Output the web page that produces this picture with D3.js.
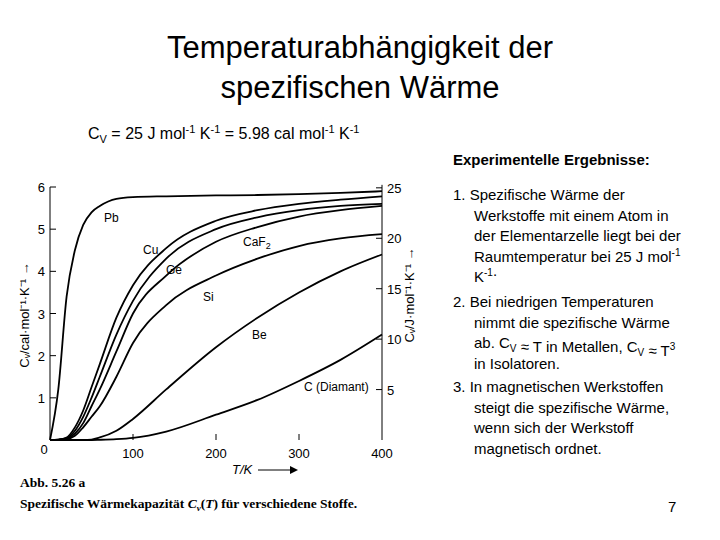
<!DOCTYPE html>
<html><head><meta charset="utf-8">
<script src="https://cdn.jsdelivr.net/npm/d3@7"></script>
<style>body{margin:0;background:#fff}</style>
</head><body>
<svg id="c" width="720" height="540"></svg>
<script>
// values in cal mol^-1 K^-1
const temps = [0, 10, 20, 30, 40, 50, 60, 80, 100, 140, 200, 250, 300, 350, 400];
const pb = [0, 1.2, 3.4, 4.5, 5.1, 5.4, 5.55, 5.72, 5.76, 5.78, 5.8, 5.81, 5.83, 5.86, 5.9];
const cu = [0, 0.01, 0.06, 0.3, 0.7, 1.25, 1.8, 2.9, 3.67, 4.55, 5.2, 5.45, 5.6, 5.7, 5.78];
const ge = [0, 0.01, 0.04, 0.22, 0.55, 1.0, 1.5, 2.5, 3.3, 4.3, 5.0, 5.28, 5.45, 5.55, 5.6];
const caf2 = [0, 0.005, 0.03, 0.15, 0.4, 0.8, 1.2, 2.1, 3.0, 3.9, 4.7, 5.05, 5.3, 5.45, 5.55];
const si = [0, 0.005, 0.02, 0.1, 0.3, 0.55, 0.8, 1.5, 2.3, 3.2, 3.9, 4.3, 4.6, 4.78, 4.88];
const be = [0, 0, 0, 0, 0, 0.01, 0.06, 0.22, 0.5, 1.2, 2.2, 2.9, 3.5, 4.0, 4.4];
const diamant = [0, 0, 0, 0, 0, 0, 0.005, 0.02, 0.05, 0.2, 0.6, 0.95, 1.4, 1.9, 2.5];
const series = [["Pb", pb], ["Cu", cu], ["Ge", ge], ["CaF2", caf2], ["Si", si], ["Be", be], ["C", diamant]];
const xTicks = [100, 200, 300, 400];
const leftTicks = [1, 2, 3, 4, 5, 6];
const rightTicks = [5, 10, 15, 20, 25];
const calPerJ = 5.98 / 25;

const svg = d3.select("#c");
const font = "Arial, 'Liberation Sans', sans-serif";

svg.append("text").attr("x", 360).attr("y", 58).attr("text-anchor", "middle")
  .attr("font-family", font).attr("font-size", 31).text("Temperaturabhängigkeit der");
svg.append("text").attr("x", 360).attr("y", 98).attr("text-anchor", "middle")
  .attr("font-family", font).attr("font-size", 31).text("spezifischen Wärme");

const sub = svg.append("text").attr("x", 88).attr("y", 139)
  .attr("font-family", font).attr("font-size", 16);
[["C", 0], ["V", 4], [" = 25 J mol", 0], ["-1", -6], [" K", 0], ["-1", -6],
 [" = 5.98 cal mol", 0], ["-1", -6], [" K", 0], ["-1", -6]].forEach(([t, dy], i, a) => {
  const prev = i ? a[i - 1][1] : 0;
  sub.append("tspan").attr("dy", dy - prev).attr("font-size", dy ? 11 : 16).text(t);
});

// chart
const x = d3.scaleLinear().domain([0, 400]).range([50, 382]);
const y = d3.scaleLinear().domain([0, 6]).range([440, 187]);
const g = svg.append("g").attr("font-family", font).attr("font-size", 12);

g.append("line").attr("x1", 50).attr("x2", 50).attr("y1", y(6)).attr("y2", 440).attr("stroke", "#000");
g.append("line").attr("x1", 382).attr("x2", 382).attr("y1", y(25 * calPerJ) - 3).attr("y2", 440).attr("stroke", "#000");

leftTicks.forEach(v => {
  g.append("line").attr("x1", 50).attr("x2", 56).attr("y1", y(v)).attr("y2", y(v)).attr("stroke", "#000");
  g.append("text").attr("x", 45).attr("y", y(v) + 5).attr("text-anchor", "end").attr("font-size", 13).text(v);
});
rightTicks.forEach(v => {
  const yy = y(v * calPerJ);
  g.append("line").attr("x1", 376).attr("x2", 382).attr("y1", yy).attr("y2", yy).attr("stroke", "#000");
  g.append("text").attr("x", 387).attr("y", yy + 5).attr("font-size", 13).text(v);
});
xTicks.forEach(v => {
  if (v < 400) g.append("line").attr("x1", x(v)).attr("x2", x(v)).attr("y1", 440).attr("y2", 434).attr("stroke", "#000");
  g.append("text").attr("x", x(v)).attr("y", 458).attr("text-anchor", "middle").attr("font-size", 13).text(v);
});
g.append("text").attr("x", 44).attr("y", 454).attr("text-anchor", "middle").attr("font-size", 13).text("0");
g.append("text").attr("x", 232).attr("y", 474).attr("font-size", 13).attr("font-style", "italic").text("T/K");
g.append("path").attr("d", "M258,470 L290,470").attr("stroke", "#000");
g.append("path").attr("d", "M290,466 L298,470 L290,474 Z").attr("fill", "#000");

g.append("text").attr("transform", "translate(29,315) rotate(-90)").attr("text-anchor", "middle")
  .attr("font-size", 13).text("C\u1D65/cal·mol⁻¹·K⁻¹  →");
g.append("text").attr("transform", "translate(414,295) rotate(-90)").attr("text-anchor", "middle")
  .attr("font-size", 13).text("C\u1D65/J·mol⁻¹·K⁻¹  →");

const line = d3.line().x((d, i) => x(temps[i])).y(d => y(d)).curve(d3.curveMonotoneX);
series.forEach(([name, vals]) => {
  g.append("path").attr("d", line(vals)).attr("fill", "none").attr("stroke", "#000").attr("stroke-width", 1.8);
});

const labels = [["Pb", 104, 222], ["Cu", 143, 254], ["Ge", 166, 274], ["Si", 203, 301], ["Be", 252, 339], ["C (Diamant)", 304, 391]];
labels.forEach(([t, lx, ly]) => g.append("text").attr("x", lx).attr("y", ly).attr("font-size", 12).text(t));
const caf = g.append("text").attr("x", 243).attr("y", 246).attr("font-size", 12).text("CaF");
caf.append("tspan").attr("dy", 3).attr("font-size", 9).text("2");

const serif = "'Liberation Serif', 'DejaVu Serif', serif";
svg.append("text").attr("x", 20).attr("y", 487).attr("font-family", serif)
  .attr("font-weight", "bold").attr("font-size", 13.5).text("Abb. 5.26 a");
const cap = svg.append("text").attr("x", 20).attr("y", 508).attr("font-family", serif)
  .attr("font-weight", "bold").attr("font-size", 13.5).text("Spezifische Wärmekapazität ");
cap.append("tspan").attr("font-style", "italic").text("C");
cap.append("tspan").attr("font-style", "italic").attr("font-size", 9).attr("dy", 3).text("v");
cap.append("tspan").attr("dy", -3).text("(");
cap.append("tspan").attr("font-style", "italic").text("T");
cap.append("tspan").text(") für verschiedene Stoffe.");

// right text column
const col = svg.append("g").attr("font-family", font).attr("font-size", 15);
col.append("text").attr("x", 453).attr("y", 165).attr("font-weight", "bold").text("Experimentelle Ergebnisse:");
const items = [
  [200, [["1.  Spezifische Wärme der"], ["Werkstoffe mit einem Atom in"], ["der Elementarzelle liegt bei der"], ["Raumtemperatur bei 25 J mol", "-1"], ["K", "-1", "."]]],
  [307, [["2.  Bei niedrigen Temperaturen"], ["nimmt die spezifische Wärme"], ["ab. C", "V", " ≈ T in Metallen, C", "V", " ≈ T", "3"], ["in Isolatoren."]]],
  [392, [["3.  In magnetischen Werkstoffen"], ["steigt die spezifische Wärme,"], ["wenn sich der Werkstoff"], ["magnetisch ordnet."]]]
];
items.forEach(([y0, lines]) => {
  lines.forEach((parts, i) => {
    const t = col.append("text").attr("x", i ? 474 : 453).attr("y", y0 + i * 20.5);
    parts.forEach(p => {
      if (p === "-1" || p === "3") {
        t.append("tspan").attr("dy", -6).attr("font-size", 10).text(p);
        t.append("tspan").attr("dy", 6).text("");
      } else if (p === "V") {
        t.append("tspan").attr("dy", 4).attr("font-size", 10).text(p);
        t.append("tspan").attr("dy", -4).text("");
      } else t.append("tspan").text(p);
    });
  });
});
svg.append("text").attr("x", 668).attr("y", 512).attr("font-family", font).attr("font-size", 15).text("7");
</script>
</body></html>
